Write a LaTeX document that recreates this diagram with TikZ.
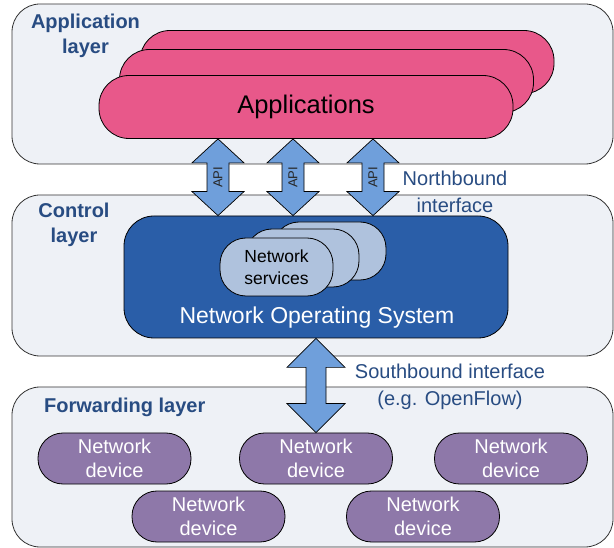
\documentclass[tikz,border=0pt]{standalone}
\usepackage{fontspec}
\setmainfont{Liberation Sans}
\usetikzlibrary{calc}
\definecolor{layerfill}{HTML}{EEF1F6}
\definecolor{apppink}{HTML}{E8588A}
\definecolor{nosblue}{HTML}{2A5EA8}
\definecolor{svcblue}{HTML}{AFC2DD}
\definecolor{devpurple}{HTML}{8E78A9}
\definecolor{arrowblue}{HTML}{6F9FDB}
\definecolor{txtblue}{HTML}{284C82}
\newcommand\dblarr[5]{% top, bottom, half head, half shaft, head length
  \draw[arrowshape] (#1) -- ($(#1)+(#3,#5)$) -- ($(#1)+(#4,#5)$) -- ($(#2)+(#4,-#5)$)
    -- ($(#2)+(#3,-#5)$) -- (#2) -- ($(#2)+(-#3,-#5)$) -- ($(#2)+(-#4,-#5)$)
    -- ($(#1)+(-#4,#5)$) -- ($(#1)+(-#3,#5)$) -- cycle;}
\begin{document}
\begin{tikzpicture}[x=1pt,y=-1pt,
  layerbox/.style={draw=black!80, line width=0.8pt, fill=layerfill, rounded corners=28pt},
  layertitle/.style={text=txtblue, font=\fontsize{20}{25}\selectfont\bfseries, align=center},
  apppill/.style={draw=black, line width=0.8pt, fill=apppink, rounded corners=30pt, minimum width=414pt, minimum height=63pt},
  svcpill/.style={draw=black, line width=0.8pt, fill=svcblue, rounded corners=26pt, minimum width=113pt, minimum height=58pt},
  devpill/.style={draw=black, line width=0.8pt, fill=devpurple, rounded corners=25pt, minimum width=153pt, minimum height=51pt, text=white, align=center, font=\fontsize{20}{24}\selectfont},
  arrowshape/.style={draw=black, line width=0.7pt, fill=arrowblue, line join=miter},
  sidelabel/.style={text=txtblue, align=center, font=\fontsize{20}{27}\selectfont},
  apilabel/.style={rotate=90, font=\fontsize{13}{13}\selectfont, text=black!85}
]
\useasboundingbox (0,0) rectangle (614,548);

% layers
\draw[layerbox] (12,4) rectangle (613,164);
\draw[layerbox] (12,195) rectangle (613,356);
\draw[layerbox] (12,387) rectangle (613,547);

\node[layertitle] (applayer) at (85.5,36) {Application\\layer};
\node[layertitle] (ctllayer) at (74,225) {Control\\layer};
\node[layertitle, anchor=west, inner sep=0pt] (fwdlayer) at (44,407) {Forwarding layer};

% applications
\node[apppill] (app3) at (347,62) {};
\node[apppill] (app2) at (326.5,81) {};
\node[apppill, font=\fontsize{25.5}{25.5}\selectfont] (apps) at (306,107) {Applications};

% network operating system
\node[draw=black, line width=0.8pt, fill=nosblue, rounded corners=30pt, minimum width=384pt, minimum height=122pt] (nos) at (316,277) {};
\node[text=white, font=\fontsize{23}{23}\selectfont] (nostext) at (317,318) {Network Operating System};
\node[svcpill] (svc3) at (329.5,251) {};
\node[svcpill] (svc2) at (302.5,258) {};
\node[svcpill, align=center, font=\fontsize{17.5}{22}\selectfont] (svc) at (276.5,267) {Network\\services};

% devices
\node[devpill] (d1) at (114.5,458.5) {Network\\device};
\node[devpill] (d2) at (316,458.5) {Network\\device};
\node[devpill] (d3) at (511,458.5) {Network\\device};
\node[devpill] (d4) at (208.5,516.5) {Network\\device};
\node[devpill] (d5) at (423,516.5) {Network\\device};

% API arrows
\coordinate (a1t) at ([xshift=-88pt]apps.south);
\coordinate (a2t) at ([xshift=-13pt]apps.south);
\coordinate (a3t) at ([xshift=67pt]apps.south);
\coordinate (a1b) at (a1t |- nos.north);
\coordinate (a2b) at (a2t |- nos.north);
\coordinate (a3b) at (a3t |- nos.north);
\dblarr{a1t}{a1b}{26}{11}{24}
\dblarr{a2t}{a2b}{26}{11}{24}
\dblarr{a3t}{a3b}{26}{11}{24}
\node[apilabel] (api1) at ($(a1t)!0.5!(a1b)$) {API};
\node[apilabel] (api2) at ($(a2t)!0.5!(a2b)$) {API};
\node[apilabel] (api3) at ($(a3t)!0.5!(a3b)$) {API};

% southbound arrow
\dblarr{nos.south}{d2.north}{29}{10}{29}

\node[sidelabel] (north) at (455,192) {Northbound\\interface};
\node[sidelabel] (south) at (450,386.5) {Southbound interface\\(e.g. OpenFlow)};
\end{tikzpicture}
\end{document}
